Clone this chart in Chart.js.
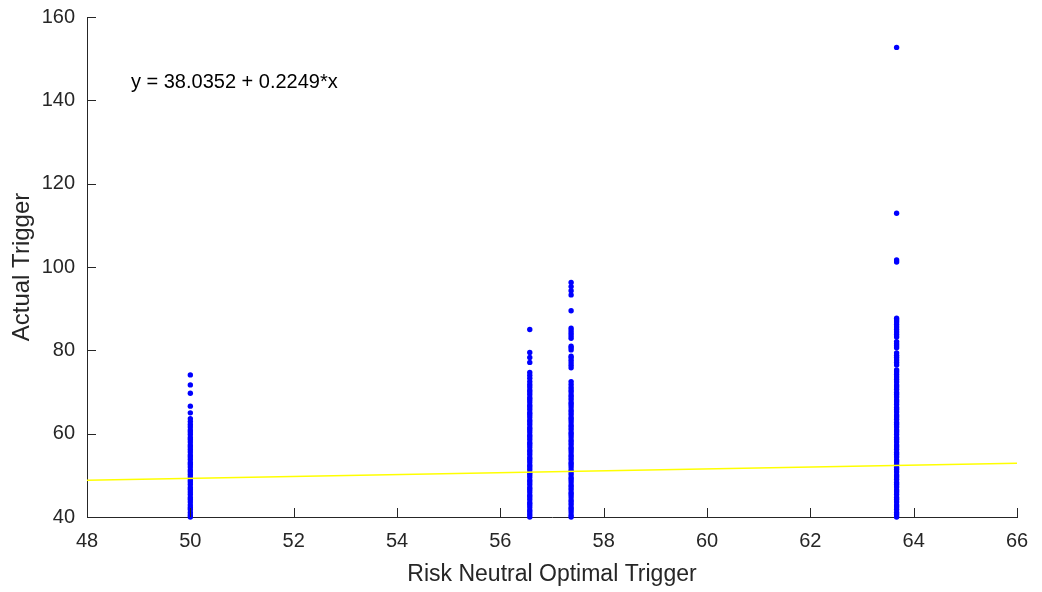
<!DOCTYPE html>
<html><head><meta charset="utf-8">
<script src="https://cdn.jsdelivr.net/npm/chart.js@4"></script>
<style>html,body{margin:0;padding:0;background:#fff;} canvas{display:block}</style>
</head><body>
<canvas id="c" width="1042" height="592"></canvas>
<script>
// ---- data ----
const xTickValues = [48, 50, 52, 54, 56, 58, 60, 62, 64, 66];
const yTickValues = [40, 60, 80, 100, 120, 140, 160];
const triggerLevels = [50, 56.57, 57.37, 63.67];

const actualAt50 = [40.0, 40.5, 41.1, 41.8, 42.3, 42.9, 43.6, 44.2, 44.7, 45.4, 46.0, 46.6, 47.1, 47.8, 48.4, 48.9, 49.6, 50.2, 50.8, 51.3, 52.0, 52.6, 53.1, 53.8, 54.4, 54.9, 55.6, 56.2, 56.8, 57.3, 58.0, 58.6, 59.1, 59.8, 60.4, 60.9, 61.6, 62.2, 62.9, 63.6, 65.0, 66.6, 69.7, 71.7, 74.1];
const actualAt5657 = [40.0, 40.6, 41.2, 41.7, 42.4, 43.0, 43.5, 44.2, 44.8, 45.3, 46.0, 46.6, 47.1, 47.8, 48.4, 48.9, 49.6, 50.2, 50.7, 51.4, 52.0, 52.5, 53.2, 53.8, 54.3, 55.0, 55.6, 56.1, 56.8, 57.4, 57.9, 58.6, 59.2, 59.7, 60.4, 61.0, 61.5, 62.2, 62.8, 63.3, 64.0, 64.6, 65.1, 65.8, 66.4, 66.9, 67.6, 68.2, 68.7, 69.4, 70.0, 70.5, 71.2, 71.8, 72.5, 73.3, 74.0, 74.7, 77.1, 78.3, 79.5, 85.0];
const actualAt5737 = [40.0, 40.5, 41.2, 41.8, 42.3, 43.0, 43.6, 44.1, 44.8, 45.4, 45.9, 46.6, 47.2, 47.7, 48.4, 49.0, 49.5, 50.2, 50.8, 51.3, 52.0, 52.6, 53.1, 53.8, 54.4, 54.9, 55.6, 56.2, 56.7, 57.4, 58.0, 58.5, 59.2, 59.8, 60.3, 61.0, 61.6, 62.1, 62.8, 63.4, 63.9, 64.6, 65.2, 65.7, 66.4, 67.0, 67.5, 68.2, 68.8, 69.3, 70.0, 70.5, 71.1, 71.8, 72.5, 75.8, 76.4, 77.0, 77.6, 78.2, 78.6, 80.1, 80.6, 81.0, 82.9, 83.5, 84.1, 84.7, 85.3, 89.5, 93.3, 94.3, 95.3, 96.3];
const actualAt6367 = [40.0, 40.6, 41.1, 41.8, 42.4, 42.9, 43.6, 44.2, 44.7, 45.4, 46.0, 46.5, 47.2, 47.8, 48.3, 49.0, 49.6, 50.1, 50.8, 51.4, 51.9, 52.6, 53.2, 53.7, 54.4, 55.0, 55.5, 56.2, 56.8, 57.3, 58.0, 58.6, 59.1, 59.8, 60.4, 60.9, 61.6, 62.2, 62.7, 63.4, 64.0, 64.5, 65.2, 65.8, 66.3, 67.0, 67.6, 68.1, 68.8, 69.4, 69.9, 70.6, 71.2, 71.7, 72.4, 73.0, 73.6, 74.2, 74.8, 75.3, 76.5, 77.1, 77.7, 78.3, 78.8, 79.4, 80.6, 81.1, 81.6, 82.1, 83.2, 83.8, 84.4, 85.0, 85.6, 86.2, 86.8, 87.3, 87.7, 101.2, 101.7, 112.9, 152.7];

const fitIntercept = 38.0352;
const fitSlope = 0.2249;
const fitRange = [48, 66];
const fitLabel = 'y = 38.0352 + 0.2249*x';
const fitLabelAt = [48.85, 144.4];

const xTitle = 'Risk Neutral Optimal Trigger';
const yTitle = 'Actual Trigger';

// ---- build ----
const columns = [actualAt50, actualAt5657, actualAt5737, actualAt6367];
const scatterPoints = [];
columns.forEach((vals, i) => vals.forEach(v => scatterPoints.push({x: triggerLevels[i], y: v})));
const fitPoints = fitRange.map(x => ({x: x, y: fitIntercept + fitSlope * x}));

const AX = '#262626';
const FONT = "'Liberation Sans', Arial, sans-serif";

const extras = {
  id: 'extras',
  afterDatasetsDraw(chart) {
    const ctx = chart.ctx, a = chart.chartArea;
    const xs = chart.scales.x, ys = chart.scales.y;
    ctx.save();
    ctx.strokeStyle = AX; ctx.lineWidth = 1;
    ctx.beginPath();
    xs.ticks.forEach(t => {
      const px = Math.round(xs.getPixelForValue(t.value)) + 0.5;
      ctx.moveTo(px, a.bottom); ctx.lineTo(px, a.bottom - 9);
    });
    ys.ticks.forEach(t => {
      const py = Math.round(ys.getPixelForValue(t.value)) + 0.5;
      ctx.moveTo(a.left, py); ctx.lineTo(a.left + 9, py);
    });
    ctx.stroke();
    ctx.fillStyle = '#000';
    ctx.font = "20px " + FONT;
    ctx.textBaseline = 'middle'; ctx.textAlign = 'left';
    ctx.fillText(fitLabel, xs.getPixelForValue(fitLabelAt[0]), ys.getPixelForValue(fitLabelAt[1]));
    ctx.restore();
  }
};

new Chart(document.getElementById('c'), {
  type: 'scatter',
  data: {
    datasets: [
      {
        type: 'line', data: fitPoints, borderColor: '#ffff00', borderWidth: 1.5,
        pointRadius: 0, fill: false, order: 0
      },
      {
        data: scatterPoints, backgroundColor: '#0000ff', borderColor: '#0000ff', borderWidth: 0,
        pointRadius: 2.7, pointHoverRadius: 2.7, clip: false, order: 1
      }
    ]
  },
  options: {
    responsive: false, animation: false, devicePixelRatio: 1,
    layout: {padding: {top: 17, right: 25, left: 0, bottom: 0}},
    plugins: {legend: {display: false}, tooltip: {enabled: false}},
    scales: {
      x: {
        type: 'linear', min: 48, max: 66,
        afterBuildTicks: s => { s.ticks = xTickValues.map(v => ({value: v})); },
        afterFit: s => { s.height = 75; s.paddingLeft = 0; s.paddingRight = 0; },
        grid: {drawOnChartArea: false, drawTicks: false},
        border: {display: true, color: AX, width: 1},
        ticks: {color: AX, font: {family: FONT, size: 20}, padding: 12, maxRotation: 0},
        title: {display: true, text: xTitle, color: AX, font: {family: FONT, size: 23}, padding: {top: 0, bottom: 4}}
      },
      y: {
        type: 'linear', min: 40, max: 160,
        afterBuildTicks: s => { s.ticks = yTickValues.map(v => ({value: v})); },
        afterFit: s => { s.width = 87; s.paddingTop = 0; s.paddingBottom = 0; },
        grid: {drawOnChartArea: false, drawTicks: false},
        border: {display: true, color: AX, width: 1},
        ticks: {color: AX, font: {family: FONT, size: 20}, padding: 12},
        title: {display: true, text: yTitle, color: AX, font: {family: FONT, size: 24}, padding: {top: 8, bottom: 0}}
      }
    }
  },
  plugins: [extras]
});
</script>
</body></html>
